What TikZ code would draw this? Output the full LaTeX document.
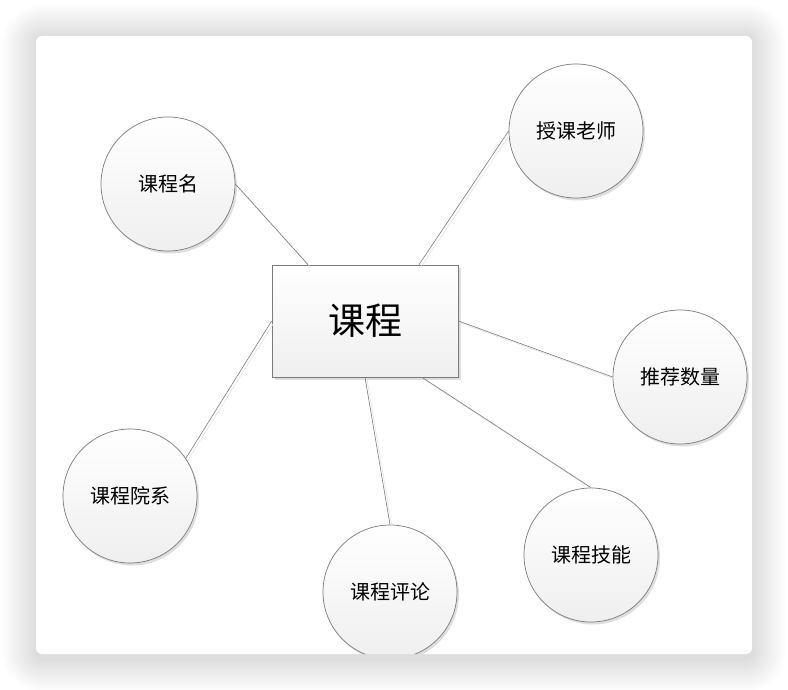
\documentclass[tikz,border=0pt]{standalone}
\usepackage{fontspec}
\newfontfamily\cjk{Noto Sans CJK SC}
\usetikzlibrary{shadows}

\definecolor{linegray}{HTML}{7A7A7A}
\definecolor{fillgray}{HTML}{EFEFEF}

\tikzset{
    attr/.style={circle, draw=linegray, line width=0.7pt, minimum size=134pt, inner sep=0pt,
        top color=white, bottom color=fillgray,
        drop shadow={shadow xshift=2pt, shadow yshift=-2.5pt, opacity=0.13, fill=black},
        font=\cjk\fontsize{20}{24}\selectfont},
    entity/.style={rectangle, draw=linegray, line width=0.7pt, minimum width=186pt, minimum height=112pt,
        inner sep=0pt, top color=white, bottom color=fillgray,
        drop shadow={shadow xshift=3pt, shadow yshift=-3pt, opacity=0.13, fill=black},
        font=\cjk\fontsize{37}{40}\selectfont},
    link/.style={draw=linegray, line width=0.6pt,
        preaction={draw=black!10, line width=0.6pt, transform canvas={shift={(2pt,-2pt)}}}}
}

\begin{document}
\begin{tikzpicture}[x=1pt, y=-1pt]
        \useasboundingbox (0,0) rectangle (788,690);
        \fill[white] (0,0) rectangle (788,690);
        % shadow round the card
        \foreach \i in {1,2,...,34}
            \fill[black, opacity=0.0042, rounded corners=6+\i] (36-\i,38-\i) rectangle (752+\i,658+\i);
        \fill[white, rounded corners=6pt] (36,36) rectangle (752,654);

        \begin{scope}
        \clip[rounded corners=6pt] (36,36) rectangle (752,654);
        \node[entity] (course) at (365,321) {课程};
        \node[attr] (name) at (168,184) {课程名};
        \node[attr] (teacher) at (576,131) {授课老师};
        \node[attr] (recnum) at (680,377) {推荐数量};
        \node[attr] (dept) at (130,496) {课程院系};
        \node[attr] (review) at (390,592) {课程评论};
        \node[attr] (skill) at (591,555) {课程技能};

        \draw[link] (name.east) -- ([xshift=-57pt]course.north);
        \draw[link] (teacher.west) -- ([xshift=54pt]course.north);
        \draw[link] (course.east) -- (recnum.west);
        \draw[link] (dept.34) -- (course.west);
        \draw[link] (course.south) -- (review.north);
        \draw[link] ([xshift=57pt]course.south) -- (skill.north);
        \end{scope}
    \end{tikzpicture}
\end{document}
